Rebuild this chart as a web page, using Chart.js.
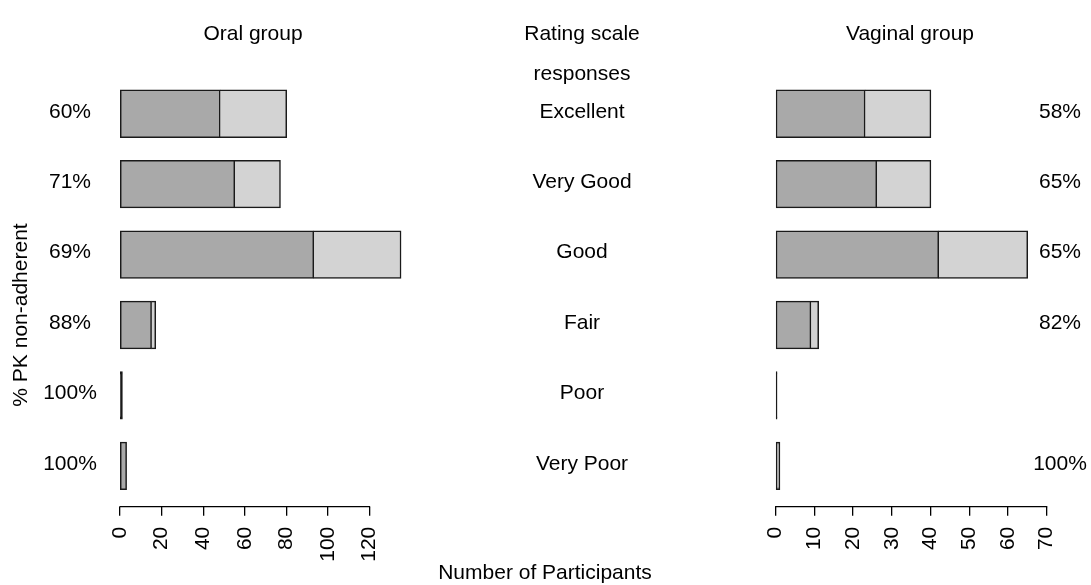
<!DOCTYPE html>
<html>
<head>
<meta charset="utf-8">
<title>Rating scale responses by group</title>
<script src="https://cdn.jsdelivr.net/npm/chart.js@4.4.1/dist/chart.umd.min.js"></script>
<style>
  html, body { margin: 0; padding: 0; background: #fff; }
  #wrap { position: relative; width: 1091px; height: 585px; overflow: hidden; }
  #oral { position: absolute; left: 0; top: 0; }
  #vaginal { position: absolute; left: 700px; top: 0; }
</style>
</head>
<body>
<div id="wrap">
  <canvas id="oral" width="700" height="585"></canvas>
  <canvas id="vaginal" width="391" height="585"></canvas>
</div>
<script>
// Rating scale categories, top to bottom
const categories = ['Excellent', 'Very Good', 'Good', 'Fair', 'Poor', 'Very Poor'];

// Participant counts per rating: PK non-adherent (dark) and adherent (light)
const oralNonAdherent = [48, 55, 93, 15, 1, 3];
const oralAdherent    = [32, 22, 42, 2, 0, 0];
const vaginalNonAdherent = [23, 26, 42, 9, 0, 1];
const vaginalAdherent    = [17, 14, 23, 2, 0, 0];

// Axis tick values
const oralTicks = [0, 20, 40, 60, 80, 100, 120];
const vaginalTicks = [0, 10, 20, 30, 40, 50, 60, 70];

const FONT_FAMILY = '"Liberation Sans", Arial, Helvetica, sans-serif';
const FONT = '21px ' + FONT_FAMILY;
const DARK = '#a9a9a9';
const LIGHT = '#d3d3d3';
const EDGE = '#1a1a1a';

Chart.defaults.font.family = FONT_FAMILY;
Chart.defaults.font.size = 21;
Chart.defaults.color = '#000';

// share of non-adherent participants, blank when a rating has nobody
function pctLabel(nonAdh, adh) {
  const total = nonAdh + adh;
  if (!total) return null;
  return Math.round(100 * nonAdh / total) + '%';
}

function toPoints(values) {
  return values.map((v, i) => ({ x: v, y: i }));
}

// bars too narrow to show their fill are drawn solid in the edge colour
function fillFor(base) {
  return ctx => {
    const sx = ctx.chart.scales && ctx.chart.scales.x;
    if (!ctx.raw || !sx) return base;
    const w = Math.abs(sx.getPixelForValue(ctx.raw.x) - sx.getPixelForValue(0));
    return w < 3 ? EDGE : base;
  };
}

// axis line spanning only the first to the last tick
const axisLine = {
  id: 'axisLine',
  afterDraw(chart, args, opts) {
    const { ctx, scales: { x }, chartArea } = chart;
    const t = opts.ticks;
    ctx.save();
    ctx.strokeStyle = '#000';
    ctx.lineWidth = 1.3;
    ctx.lineCap = 'square';
    ctx.beginPath();
    ctx.moveTo(x.getPixelForValue(t[0]), chartArea.bottom);
    ctx.lineTo(x.getPixelForValue(t[t.length - 1]), chartArea.bottom);
    ctx.stroke();
    ctx.restore();
  }
};

// row labels, headings and axis titles
const sideText = {
  id: 'sideText',
  afterDraw(chart, args, opts) {
    const { ctx, scales: { y } } = chart;
    ctx.save();
    ctx.font = FONT;
    ctx.fillStyle = '#000';
    ctx.textAlign = 'center';
    ctx.textBaseline = 'middle';
    categories.forEach((c, i) => {
      const py = y.getPixelForValue(i) - 2;
      const pct = pctLabel(opts.nonAdh[i], opts.adh[i]);
      if (pct) ctx.fillText(pct, opts.pctX, py);
      if (opts.catX != null) ctx.fillText(c, opts.catX, py);
    });
    (opts.headings || []).forEach(h => ctx.fillText(h.text, h.x, h.y));
    if (opts.yTitle) {
      ctx.translate(opts.yTitle.x, opts.yTitle.y);
      ctx.rotate(-Math.PI / 2);
      ctx.fillText(opts.yTitle.text, 0, 0);
    }
    ctx.restore();
  }
};

function makeChart(canvasId, nonAdh, adh, ticks, xMax, padding, textOpts) {
  return new Chart(document.getElementById(canvasId), {
    type: 'bar',
    data: {
      datasets: [
        {
          label: 'PK non-adherent',
          data: toPoints(nonAdh),
          backgroundColor: fillFor(DARK),
          borderColor: EDGE,
          borderWidth: 1.5,
          borderSkipped: false,
          inflateAmount: 0.7,
          minBarLength: 1,
          barPercentage: 1,
          categoryPercentage: 2 / 3
        },
        {
          label: 'PK adherent',
          data: toPoints(adh),
          backgroundColor: LIGHT,
          borderColor: EDGE,
          borderWidth: 1.5,
          borderSkipped: 'left',
          inflateAmount: 0.7,
          barPercentage: 1,
          categoryPercentage: 2 / 3
        }
      ]
    },
    options: {
      indexAxis: 'y',
      responsive: false,
      animation: false,
      events: [],
      layout: { padding },
      scales: {
        x: {
          type: 'linear',
          min: 0,
          max: xMax,
          stacked: true,
          afterBuildTicks: s => { s.ticks = ticks.map(v => ({ value: v })); },
          afterFit: s => { s.height = 62; },
          border: { display: false },
          grid: { drawOnChartArea: false, drawTicks: true, tickLength: 9, color: '#000', lineWidth: 1.3 },
          ticks: { autoSkip: false, minRotation: 90, maxRotation: 90, padding: 11, color: '#000', font: { size: 21 } }
        },
        y: {
          type: 'linear',
          reverse: true,
          offset: false,
          min: -0.764,
          max: 5.581,
          stacked: true,
          display: false,
          afterBuildTicks: s => { s.ticks = categories.map((c, i) => ({ value: i })); }
        }
      },
      plugins: {
        legend: { display: false },
        tooltip: { enabled: false },
        axisLine: { ticks },
        sideText: textOpts
      }
    },
    plugins: [axisLine, sideText]
  });
}

makeChart('oral', oralNonAdherent, oralAdherent, oralTicks, 140,
  { left: 120, right: 288.9, top: 60, bottom: 16.3 },
  {
    nonAdh: oralNonAdherent, adh: oralAdherent, pctX: 70, catX: 582,
    headings: [
      { text: 'Oral group', x: 253, y: 34 },
      { text: 'Rating scale', x: 582, y: 34 },
      { text: 'responses', x: 582, y: 74 },
      { text: 'Number of Participants', x: 545, y: 573 }
    ],
    yTitle: { text: '% PK non-adherent', x: 21, y: 315 }
  });

makeChart('vaginal', vaginalNonAdherent, vaginalAdherent, vaginalTicks, 70,
  { left: 75.7, right: 44.3, top: 60, bottom: 16.3 },
  {
    nonAdh: vaginalNonAdherent, adh: vaginalAdherent, pctX: 360, catX: null,
    headings: [
      { text: 'Vaginal group', x: 210, y: 34 }
    ]
  });
</script>
</body>
</html>
